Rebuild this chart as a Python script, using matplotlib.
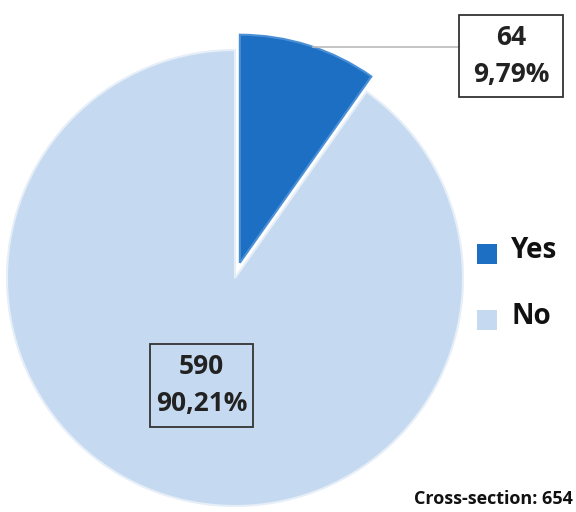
import matplotlib
matplotlib.use("Agg")
import matplotlib.pyplot as plt
from matplotlib.patches import Rectangle

categories = ["Yes", "No"]
counts = [64, 590]
percent_labels = ["9,79%", "90,21%"]
total_label = "Cross-section: 654"
colors = ["#1c6fc2", "#c5daf0"]

W, H = 576, 512
fig = plt.figure(figsize=(W / 100, H / 100), dpi=100)
ax = fig.add_axes([0, 0, 1, 1])

FONT = "Open Sans"
cx, cy, r = 235, H - 278, 228
wedges, _ = ax.pie(counts, colors=colors, startangle=90, counterclock=False,
                   center=(cx, cy), radius=r, explode=[16, 0],
                   wedgeprops=dict(edgecolor="#e6eef8", linewidth=1.5),
                   frame=True)
ax.set_xlim(0, W)
ax.set_ylim(0, H)
ax.set_aspect("equal")
ax.axis("off")
wedges[0].set_edgecolor("#4a8fd6")

def label_box(x0, y0, x1, y1, fc, top, bottom, fs):
    ax.add_patch(Rectangle((x0, H - y1), x1 - x0, y1 - y0, facecolor=fc,
                           edgecolor="#333333", linewidth=1.3, zorder=5))
    xc = (x0 + x1) / 2
    h = y1 - y0
    ax.text(xc, H - (y0 + h * 0.27), top, ha="center", va="center", fontsize=fs,
            fontweight="bold", family=FONT, color="#222222", zorder=6)
    ax.text(xc, H - (y0 + h * 0.72), bottom, ha="center", va="center", fontsize=fs,
            fontweight="bold", family=FONT, color="#222222", zorder=6)

ax.plot([313, 459], [H - 47, H - 47], color="#bbbbbb", lw=1.2)
label_box(459, 15, 563, 97, "white", str(counts[0]), percent_labels[0], 19)
label_box(150, 344, 253, 427, colors[1], str(counts[1]), percent_labels[1], 19)

# legend
leg_y = [254, 320]
for cat, col, y in zip(categories, colors, leg_y):
    ax.add_patch(Rectangle((477, H - y - 10), 20, 20, facecolor=col, edgecolor="none"))
    ax.text(511, H - y + 3, cat, ha="left", va="center", fontsize=20, fontweight="bold",
            family=FONT, color="#111111")

ax.text(573, H - 499, total_label, ha="right", va="center", fontsize=13,
        fontweight="bold", family=FONT, color="#111111")

fig.savefig("out.png", dpi=100)
